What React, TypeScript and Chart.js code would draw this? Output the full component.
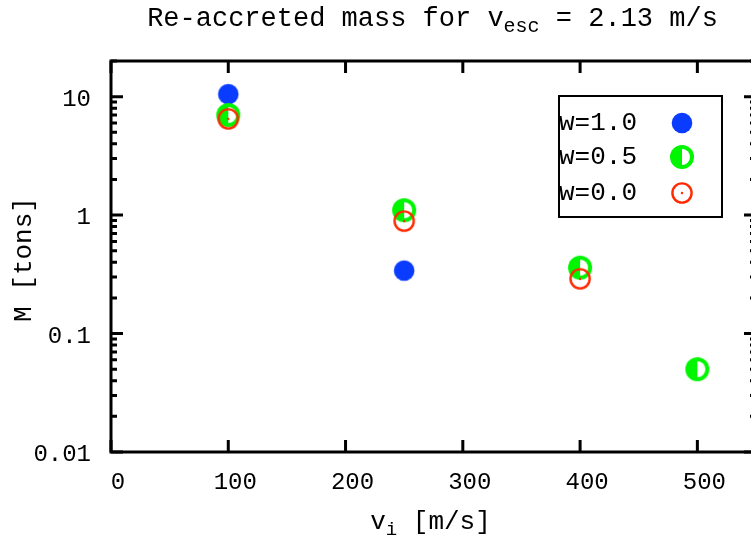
import React, { useEffect, useRef } from "react";
import { Chart, registerables } from "chart.js";
Chart.register(...registerables);

// ---- data ----
const xTickValues = [0, 100, 200, 300, 400, 500];
const yTickValues = [0.01, 0.1, 1, 10];
const yTickLabels = ["0.01", "0.1", "1", "10"];

const vW10 = [100, 250];
const mW10 = [10.5, 0.34];
const vW05 = [100, 250, 400, 500];
const mW05 = [7.0, 1.1, 0.36, 0.05];
const vW00 = [100, 250, 400];
const mW00 = [6.5, 0.89, 0.29];
const seriesLabels = ["w=1.0", "w=0.5", "w=0.0"];

const titleMain = "Re-accreted mass for v";
const titleSub = "esc";
const titleTail = " = 2.13 m/s";
const xLabelMain = "v";
const xLabelSub = "i";
const xLabelTail = " [m/s]";
const yLabel = "M [tons]";

const BLUE = "#0a3cff";
const GREEN = "#00f500";
const RED = "#ff2a00";
const FONT = '"Liberation Mono", "DejaVu Sans Mono", monospace';

function makeBlue() {
  const c = document.createElement("canvas");
  c.width = 24; c.height = 24;
  const g = c.getContext("2d")!;
  g.fillStyle = BLUE;
  g.beginPath(); g.arc(12, 12, 10.3, 0, Math.PI * 2); g.fill();
  return c;
}
function makeGreen() {
  const c = document.createElement("canvas");
  c.width = 26; c.height = 26;
  const g = c.getContext("2d")!;
  g.fillStyle = GREEN;
  g.beginPath(); g.arc(13, 13, 12, 0, Math.PI * 2); g.fill();
  g.fillStyle = "#ffffff";
  g.beginPath(); g.moveTo(13, 13); g.arc(13, 13, 8, -Math.PI / 2, Math.PI / 2); g.closePath(); g.fill();
  return c;
}
function makeRed() {
  const c = document.createElement("canvas");
  c.width = 24; c.height = 24;
  const g = c.getContext("2d")!;
  g.strokeStyle = RED; g.lineWidth = 2.4;
  g.beginPath(); g.arc(12, 12, 9.6, 0, Math.PI * 2); g.stroke();
  g.fillStyle = RED;
  g.beginPath(); g.arc(12, 12, 1.2, 0, Math.PI * 2); g.fill();
  return c;
}

export default function App() {
  const ref = useRef<HTMLCanvasElement | null>(null);
  useEffect(() => {
    const canvas = ref.current!;
    document.body.style.overflow = "hidden";
    const mBlue = makeBlue();
    const mGreen = makeGreen();
    const mRed = makeRed();
    const markers = [mBlue, mGreen, mRed];

    const decor = {
      id: "decor",
      afterDraw(chart: any) {
        const { ctx, chartArea: a, scales } = chart;
        const x = scales.x, y = scales.y;
        ctx.save();
        ctx.strokeStyle = "#000";
        ctx.lineCap = "butt";
        ctx.lineWidth = 3;
        ctx.strokeRect(a.left, a.top, a.right - a.left, a.bottom - a.top);
        // x ticks (bottom + mirrored top)
        for (const v of xTickValues) {
          const px = x.getPixelForValue(v);
          ctx.beginPath();
          ctx.moveTo(px, a.bottom); ctx.lineTo(px, a.bottom - 12);
          ctx.moveTo(px, a.top); ctx.lineTo(px, a.top + 12);
          ctx.stroke();
        }
        // y ticks major + minor (left + mirrored right)
        for (let e = -2; e <= 1; e++) {
          for (let k = 1; k <= 9; k++) {
            const v = k * Math.pow(10, e);
            if (v > y.max * 1.0001) continue;
            const py = y.getPixelForValue(v);
            const len = k === 1 ? 12 : 6;
            ctx.beginPath();
            ctx.moveTo(a.left, py); ctx.lineTo(a.left + len, py);
            ctx.moveTo(a.right, py); ctx.lineTo(a.right - len, py);
            ctx.stroke();
          }
        }
        ctx.fillStyle = "#000";
        // title
        const cx = (a.left + a.right) / 2 - 1;
        const fMain = "27px " + FONT, fSub = "20px " + FONT;
        ctx.font = fMain;
        const w1 = ctx.measureText(titleMain).width;
        const w3 = ctx.measureText(titleTail).width;
        ctx.font = fSub;
        const w2 = ctx.measureText(titleSub).width;
        let tx = cx - (w1 + w2 + w3) / 2;
        ctx.textAlign = "left";
        ctx.textBaseline = "alphabetic";
        ctx.font = fMain; ctx.fillText(titleMain, tx, 26); tx += w1;
        ctx.font = fSub; ctx.fillText(titleSub, tx, 32); tx += w2;
        ctx.font = fMain; ctx.fillText(titleTail, tx, 26);
        // x label
        const xf = "26px " + FONT, xs = "19px " + FONT;
        ctx.font = xf;
        const a1 = ctx.measureText(xLabelMain).width;
        const a3 = ctx.measureText(xLabelTail).width;
        ctx.font = xs;
        const a2 = ctx.measureText(xLabelSub).width;
        let lx = cx - 2 - (a1 + a2 + a3) / 2;
        ctx.font = xf; ctx.fillText(xLabelMain, lx, 529); lx += a1;
        ctx.font = xs; ctx.fillText(xLabelSub, lx, 535); lx += a2;
        ctx.font = xf; ctx.fillText(xLabelTail, lx, 529);
        // y label
        ctx.save();
        ctx.translate(24, (a.top + a.bottom) / 2 + 3);
        ctx.rotate(-Math.PI / 2);
        ctx.textAlign = "center";
        ctx.textBaseline = "middle";
        ctx.font = "26px " + FONT;
        ctx.fillText(yLabel, 0, 0);
        ctx.restore();
        // legend
        const bx = a.left + 448, by = a.top + 35, bw = 163, bh = 121;
        ctx.fillStyle = "#fff";
        ctx.fillRect(bx, by, bw, bh);
        ctx.lineWidth = 2;
        ctx.strokeStyle = "#000";
        ctx.strokeRect(bx, by, bw, bh);
        ctx.fillStyle = "#000";
        ctx.font = "26px " + FONT;
        ctx.textAlign = "left";
        ctx.textBaseline = "middle";
        const rows = [by + 27, by + 61, by + 97];
        seriesLabels.forEach((lab, i) => {
          ctx.fillText(lab, bx, rows[i]);
          const m = markers[i];
          ctx.drawImage(m, bx + 123 - m.width / 2, rows[i] - m.height / 2);
        });
        ctx.restore();
      },
    };

    const chart = new Chart(canvas, {
      type: "scatter",
      data: {
        datasets: [
          {
            label: seriesLabels[0],
            data: vW10.map((v, i) => ({ x: v, y: mW10[i] })),
            pointStyle: mBlue as any,
            pointRadius: 11,
            order: 3,
          },
          {
            label: seriesLabels[1],
            data: vW05.map((v, i) => ({ x: v, y: mW05[i] })),
            pointStyle: mGreen as any,
            pointRadius: 12,
            order: 2,
          },
          {
            label: seriesLabels[2],
            data: vW00.map((v, i) => ({ x: v, y: mW00[i] })),
            pointStyle: mRed as any,
            pointRadius: 11,
            order: 1,
          },
        ],
      },
      options: {
        responsive: false,
        animation: false,
        events: [],
        layout: { padding: { top: 61, right: 24, left: 0, bottom: 0 } },
        plugins: { legend: { display: false }, tooltip: { enabled: false }, title: { display: false } },
        scales: {
          x: {
            type: "linear",
            min: 0,
            max: 550,
            grid: { display: false, drawTicks: false },
            border: { display: false },
            afterBuildTicks: (s: any) => { s.ticks = xTickValues.map((v) => ({ value: v })); },
            afterFit: (s: any) => { s.height = 92; },
            ticks: {
              autoSkip: false,
              maxRotation: 0,
              minRotation: 0,
              padding: 16,
              labelOffset: 7,
              color: "#000",
              font: { family: FONT, size: 24 },
            },
          },
          y: {
            type: "logarithmic",
            min: 0.01,
            max: 20,
            grid: { display: false, drawTicks: false },
            border: { display: false },
            afterBuildTicks: (s: any) => { s.ticks = yTickValues.map((v) => ({ value: v })); },
            afterFit: (s: any) => { s.width = 111; },
            ticks: {
              autoSkip: false,
              padding: 20,
              labelOffset: 3,
              color: "#000",
              font: { family: FONT, size: 24 },
              callback: (v: any) => {
                const i = yTickValues.findIndex((t) => Math.abs(t - v) < t * 1e-6);
                return i >= 0 ? yTickLabels[i] : "";
              },
            },
          },
        },
      },
      plugins: [decor],
    } as any);
    return () => chart.destroy();
  }, []);

  return (
    <div style={{ position: "absolute", left: 0, top: 0, width: 751, height: 544, overflow: "hidden", background: "#fff" }}>
      <canvas ref={ref} width={780} height={544} style={{ width: 780, height: 544, display: "block" }} />
    </div>
  );
}
